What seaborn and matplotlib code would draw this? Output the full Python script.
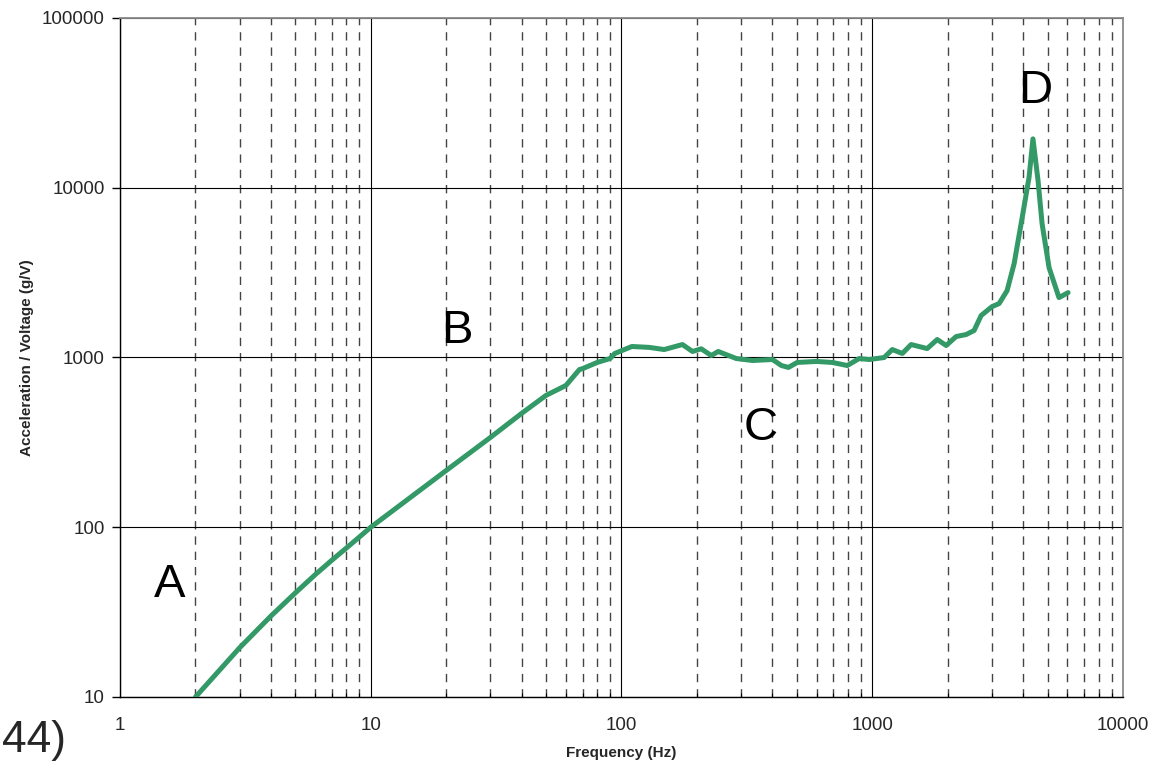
import matplotlib
matplotlib.use("Agg")
import matplotlib.pyplot as plt
import numpy as np
import pandas as pd
import seaborn as sns
from matplotlib.ticker import FixedLocator, FuncFormatter, NullFormatter

# ---- data ----
freq_hz = [2, 3, 4, 5, 6, 7, 8, 9, 10, 20, 30, 40, 50, 60, 68, 70, 80, 90, 94,
           110, 129, 148, 175, 192, 208, 228, 243, 287, 333, 400, 434, 463,
           502, 598, 693, 795, 887, 973, 1116, 1202, 1318, 1429, 1656, 1816,
           1972, 2161, 2370, 2548, 2718, 3006, 3206, 3450, 3680, 3962, 4218,
           4375, 4585, 4757, 5072, 5556, 6040]
accel_per_volt = [10, 19.5, 30, 41, 52.5, 64, 75.5, 87.5, 100, 216, 338, 469,
                  598, 684, 850, 860, 935, 986, 1056,
                  1161, 1147, 1114, 1192, 1085, 1125, 1027, 1085, 986, 960,
                  973, 897, 874, 935, 948, 935, 897, 986, 973, 1000, 1114,
                  1056, 1192, 1129, 1276, 1177, 1329, 1366, 1442, 1767, 1995,
                  2078, 2478, 3572, 6664, 11450, 19400, 10990, 6140, 3384,
                  2254, 2411]

x_ticks = [1, 10, 100, 1000, 10000]
y_ticks = [10, 100, 1000, 10000, 100000]
x_minor = [m * d for d in [1, 10, 100, 1000] for m in range(2, 10)]

region_labels = ["A", "B", "C", "D"]
region_x = [1.58, 22.0, 360, 4460]
region_y = [38.7, 1223, 327, 31400]

df = pd.DataFrame({"Frequency (Hz)": freq_hz,
                   "Acceleration / Voltage (g/V)": accel_per_volt})

sns.set_style("white")
plt.rcParams["font.family"] = ["Liberation Sans", "DejaVu Sans"]

fig = plt.figure(figsize=(11.7, 7.64), dpi=100)
ax = fig.add_axes([0.10256, 0.08770, 0.85726, 0.88874])

sns.lineplot(data=df, x="Frequency (Hz)", y="Acceleration / Voltage (g/V)",
             ax=ax, color="#339966", linewidth=3.6, sort=False,
             solid_capstyle="round", solid_joinstyle="round", zorder=3)

ax.set_xscale("log")
ax.set_yscale("log")
ax.set_xlim(1, 10000)
ax.set_ylim(10, 100000)

ax.xaxis.set_major_locator(FixedLocator(x_ticks))
ax.xaxis.set_minor_locator(FixedLocator(x_minor))
ax.yaxis.set_major_locator(FixedLocator(y_ticks))
ax.yaxis.set_minor_locator(FixedLocator([]))
fmt = FuncFormatter(lambda v, p: f"{int(round(v))}")
ax.xaxis.set_major_formatter(fmt)
ax.yaxis.set_major_formatter(fmt)
ax.xaxis.set_minor_formatter(NullFormatter())

ax.tick_params(axis="x", which="major", direction="inout", length=9.5,
               width=1, color="black", labelsize=13.5, pad=10)
ax.tick_params(axis="x", which="minor", direction="in", length=3,
               width=0.8, color="black", bottom=True)
ax.tick_params(axis="y", which="major", direction="out", length=6,
               width=1, color="black", labelsize=13.5, pad=5, left=True)

ax.set_axisbelow(True)
ax.grid(True, which="major", axis="both", color="black", linewidth=0.8,
        linestyle="-")
ax.grid(True, which="minor", axis="x", color="#444444", linewidth=1.0,
        linestyle=(0, (6, 5)))

for side in ["left", "bottom"]:
    ax.spines[side].set_color("black")
    ax.spines[side].set_linewidth(1.0)
for side in ["top", "right"]:
    ax.spines[side].set_visible(True)
    ax.spines[side].set_color("#8a8a8a")
    ax.spines[side].set_linewidth(1.3)

ax.set_xlabel("Frequency (Hz)", fontsize=11, fontweight="bold")
ax.set_ylabel("Acceleration / Voltage (g/V)", fontsize=11, fontweight="bold")
ax.xaxis.set_label_coords(0.5, -0.0825)
ax.xaxis.label.set_va("center")
ax.yaxis.set_label_coords(-0.0925, 0.5)
ax.yaxis.label.set_va("center")

for lab, xv, yv in zip(region_labels, region_x, region_y):
    ax.text(xv, yv, lab, fontsize=34, ha="center", va="baseline",
            color="black", zorder=4)

fig.text(2 / 1170, 12 / 764, "44)", fontsize=32, ha="left", va="baseline")

fig.savefig("out.png", dpi=100)
